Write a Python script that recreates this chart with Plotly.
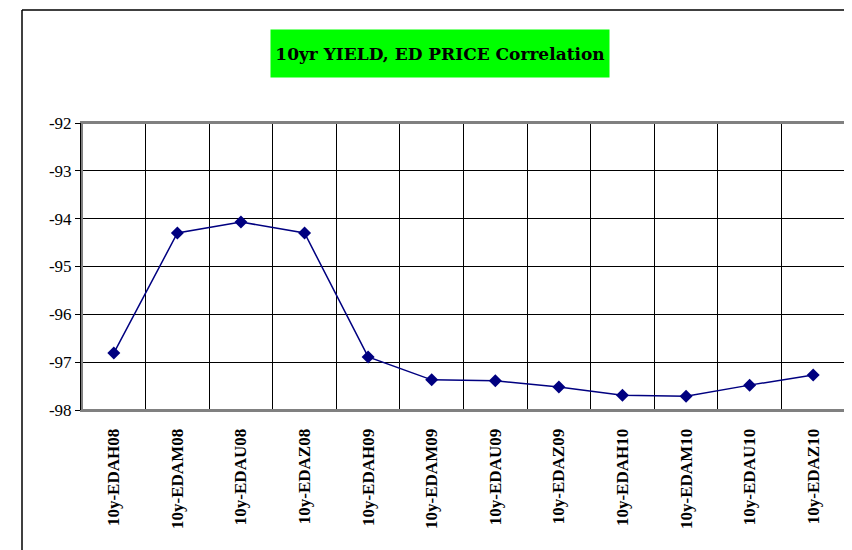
import plotly.graph_objects as go

categories = ["10y-EDAH08", "10y-EDAM08", "10y-EDAU08", "10y-EDAZ08",
              "10y-EDAH09", "10y-EDAM09", "10y-EDAU09", "10y-EDAZ09",
              "10y-EDAH10", "10y-EDAM10", "10y-EDAU10", "10y-EDAZ10"]
values = [-96.81, -94.30, -94.07, -94.30, -96.89, -97.37,
          -97.39, -97.52, -97.69, -97.71, -97.48, -97.27]
y_ticks = [-92, -93, -94, -95, -96, -97, -98]
title_text = "10yr YIELD, ED PRICE Correlation"

OFF = 8  # page body margin
W, H = 852 - OFF, 550 - OFF
L, R, T, B = 82 - OFF, 845 - OFF, 123 - OFF, 410 - OFF

def px(x):
    return (x - OFF - L) / (R - L)

def py(y):
    return (B - (y - OFF)) / (B - T)

fig = go.Figure()
fig.add_trace(go.Scatter(
    x=categories, y=values, mode="lines+markers",
    line=dict(color="#000080", width=1.5),
    marker=dict(symbol="diamond", size=10, color="#000080"),
    showlegend=False, hoverinfo="x+y"))

fig.update_layout(
    width=W, height=H,
    margin=dict(l=L, r=W - R, t=T, b=H - B, pad=0),
    paper_bgcolor="white", plot_bgcolor="white",
    font=dict(family="Liberation Serif, Times New Roman, serif", color="black", size=17),
    xaxis=dict(type="category", tickson="boundaries", range=[-0.5, 11.5],
               showgrid=True, gridcolor="black", gridwidth=1,
               showline=True, linecolor="#808080", linewidth=2, mirror=True,
               ticks="", tickangle=-90, ticklabelstandoff=10,
               tickfont=dict(family="Liberation Serif, serif", size=17, color="black",
                             weight="bold"),
               automargin=False),
    yaxis=dict(range=[-98, -92], tickvals=y_ticks, ticktext=[str(v) for v in y_ticks],
               showgrid=True, gridcolor="black", gridwidth=1,
               showline=True, linecolor="black", linewidth=2,
               ticks="outside", ticklen=5, tickcolor="black",
               tickfont=dict(family="Liberation Serif, serif", size=17, color="black"),
               zeroline=False, automargin=False),
    shapes=[
        dict(type="line", xref="paper", yref="paper",
             x0=px(22), x1=px(900), y0=py(10), y1=py(10),
             line=dict(color="black", width=1.5)),
        dict(type="line", xref="paper", yref="paper",
             x0=px(22), x1=px(22), y0=py(10), y1=py(600),
             line=dict(color="black", width=1.5)),
        dict(type="rect", xref="paper", yref="paper", x0=0, x1=1, y0=0, y1=1,
             line=dict(color="#808080", width=2), layer="above"),
    ],
    annotations=[dict(
        text="<b>" + title_text + "</b>", xref="paper", yref="paper",
        x=px(440), y=py(53.5), xanchor="center", yanchor="middle",
        showarrow=False, bgcolor="#00ff00", borderpad=4, width=330, height=39,
        font=dict(family="DejaVu Serif, serif", size=17, color="black"))],
)
fig.write_html("out.html")
